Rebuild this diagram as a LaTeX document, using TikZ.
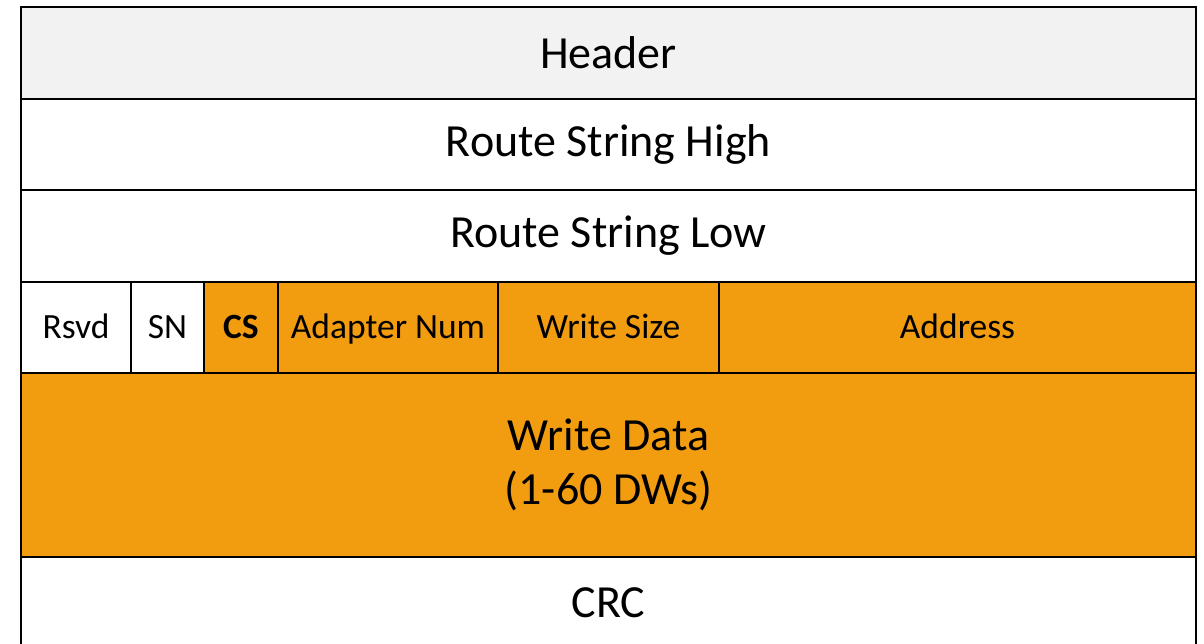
\documentclass[tikz,border=0pt]{standalone}
\usepackage{fontspec}
\setmainfont{Carlito}
\definecolor{hdrgray}{HTML}{F2F2F2}
\definecolor{fieldorange}{HTML}{F29C10}
\begin{document}
\begin{tikzpicture}[x=1pt,y=-1pt,
  cell/.style={draw=black,line width=2pt,inner sep=0pt,anchor=north west,
    font=\fontsize{35.5}{42}\selectfont,text height=28pt,text depth=7pt},
  wide/.style={draw=black,line width=2pt,inner sep=0pt,anchor=north west,
    font=\fontsize{46}{54}\selectfont},
  orange/.style={fill=fieldorange},
]
\useasboundingbox (0,0) rectangle (1204,643);
\clip (0,0) rectangle (1204,643);
% full-width rows
\node[wide,fill=hdrgray,minimum width=1175pt,minimum height=92pt] (hdr) at (20,6) {Header};
\node[wide,minimum width=1175pt,minimum height=91pt] (rsh) at (20,98) {Route String High};
\node[wide,minimum width=1175pt,minimum height=92pt] (rsl) at (20,189) {Route String Low};
% field row
\node[cell,minimum width=110pt,minimum height=91pt] (rsvd) at (20,281) {Rsvd};
\node[cell,minimum width=73pt,minimum height=91pt] (sn) at (130,281) {SN};
\node[cell,orange,minimum width=74pt,minimum height=91pt] (cs) at (203,281) {\bfseries CS};
\node[cell,orange,minimum width=220pt,minimum height=91pt] (adp) at (277,281) {Adapter Num};
\node[cell,orange,minimum width=221pt,minimum height=91pt] (wsz) at (497,281) {Write Size};
\node[cell,orange,minimum width=477pt,minimum height=91pt] (addr) at (718,281) {Address};
% payload and trailer
\node[wide,orange,minimum width=1175pt,minimum height=184pt,align=center] (wdata) at (20,372) {Write Data\\(1-60 DWs)};
\node[wide,minimum width=1175pt,minimum height=92pt] (crc) at (20,556) {CRC};
\end{tikzpicture}
\end{document}
